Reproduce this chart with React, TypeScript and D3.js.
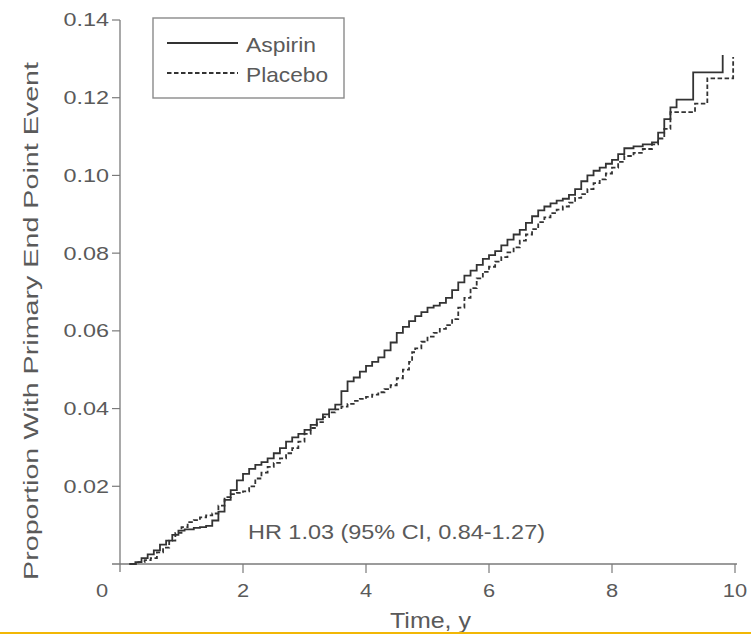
import React, { useEffect, useRef } from "react";
import * as d3 from "d3";

// cumulative incidence (time in years, proportion)
const aspirinTime = [
  0.15, 0.25, 0.35, 0.45, 0.55, 0.65, 0.75, 0.85, 0.95, 1.05, 1.2, 1.3, 1.4,
  1.5, 1.6, 1.7, 1.8, 1.9, 2.0, 2.1, 2.2, 2.3, 2.4, 2.5, 2.6, 2.7, 2.8, 2.9,
  3.0, 3.1, 3.2, 3.3, 3.4, 3.5, 3.6, 3.7, 3.8, 3.9, 4.0, 4.1, 4.2, 4.3, 4.4,
  4.5, 4.6, 4.7, 4.8, 4.9, 5.0, 5.1, 5.2, 5.3, 5.4, 5.5, 5.6, 5.7, 5.8, 5.9,
  6.0, 6.1, 6.2, 6.3, 6.4, 6.5, 6.6, 6.7, 6.8, 6.9, 7.0, 7.1, 7.2, 7.3, 7.4,
  7.5, 7.6, 7.7, 7.8, 7.9, 8.0, 8.1, 8.2, 8.35, 8.5, 8.65, 8.75, 8.85, 8.95,
  9.05, 9.32, 9.8,
];
const aspirinValue = [
  0, 0.0005, 0.0015, 0.0025, 0.0035, 0.005, 0.006, 0.0075, 0.0086, 0.0089,
  0.0093, 0.0095, 0.0098, 0.0112, 0.0135, 0.0165, 0.019, 0.0215, 0.0232,
  0.0245, 0.0255, 0.0262, 0.0272, 0.0285, 0.0298, 0.0315, 0.0326, 0.0335,
  0.0345, 0.0358, 0.0372, 0.0385, 0.0398, 0.041, 0.0445, 0.047, 0.048, 0.0495,
  0.051, 0.052, 0.0532, 0.055, 0.057, 0.0595, 0.061, 0.0625, 0.0638, 0.0648,
  0.066, 0.0665, 0.0672, 0.0685, 0.0705, 0.0725, 0.0742, 0.0755, 0.077,
  0.0785, 0.0795, 0.0805, 0.082, 0.0835, 0.0848, 0.086, 0.0878, 0.0895,
  0.091, 0.092, 0.0928, 0.0935, 0.094, 0.095, 0.0965, 0.0985, 0.1, 0.1012,
  0.102, 0.103, 0.104, 0.1055, 0.107, 0.1075, 0.108, 0.1085, 0.111, 0.1145,
  0.1175, 0.1195, 0.1265, 0.131,
];

const placeboTime = [
  0.2, 0.3, 0.4, 0.5, 0.6, 0.7, 0.8, 0.9, 1.0, 1.1, 1.2, 1.3, 1.4, 1.5, 1.6,
  1.7, 1.8, 1.9, 2.0, 2.1, 2.2, 2.3, 2.4, 2.5, 2.6, 2.7, 2.8, 2.9, 3.0, 3.1,
  3.2, 3.3, 3.4, 3.5, 3.6, 3.7, 3.8, 3.9, 4.0, 4.1, 4.2, 4.3, 4.4, 4.5, 4.6,
  4.7, 4.75, 4.8, 4.9, 5.0, 5.1, 5.2, 5.3, 5.4, 5.5, 5.6, 5.7, 5.8, 5.9, 6.0,
  6.1, 6.2, 6.3, 6.4, 6.5, 6.6, 6.7, 6.8, 6.9, 7.0, 7.1, 7.2, 7.3, 7.4, 7.5,
  7.6, 7.7, 7.8, 7.9, 8.0, 8.1, 8.2, 8.35, 8.5, 8.65, 8.75, 8.85, 8.95, 9.35,
  9.55, 9.97,
];
const placeboValue = [
  0, 0.0005, 0.001, 0.0015, 0.003, 0.0042, 0.006, 0.008, 0.0095, 0.0108,
  0.0113, 0.012, 0.0125, 0.013, 0.015, 0.0172, 0.018, 0.0183, 0.0187, 0.02,
  0.022, 0.0235, 0.025, 0.026, 0.0272, 0.0285, 0.0298, 0.0315, 0.0335, 0.035,
  0.0365, 0.0378, 0.039, 0.0398, 0.0405, 0.0412, 0.042, 0.0425, 0.043,
  0.0436, 0.0442, 0.045, 0.046, 0.0478, 0.05, 0.052, 0.0545, 0.0555, 0.0572,
  0.0585, 0.0595, 0.0605, 0.0615, 0.063, 0.066, 0.0685, 0.071, 0.0735,
  0.0752, 0.0765, 0.0778, 0.079, 0.0802, 0.0815, 0.0832, 0.0848, 0.0862,
  0.088, 0.0892, 0.0903, 0.0912, 0.092, 0.093, 0.0942, 0.0952, 0.0965, 0.098,
  0.099, 0.1005, 0.102, 0.1035, 0.105, 0.1058, 0.1068, 0.108, 0.1095, 0.112,
  0.1163, 0.1185, 0.125, 0.1305,
];

const xTicks = [0, 2, 4, 6, 8, 10];
const yTicks = [0.02, 0.04, 0.06, 0.08, 0.1, 0.12, 0.14];
const legendLabels = ["Aspirin", "Placebo"];

const App = () => {
  const ref = useRef<SVGSVGElement>(null);

  useEffect(() => {
    const width = 751;
    const height = 634;
    const margin = { top: 20, right: 16, bottom: 70, left: 120 };
    const font = "'Liberation Sans', Arial, sans-serif";
    const axisColor = "#7a7a7a";
    const textColor = "#5a5a5a";
    const lineColor = "#333";

    const svg = d3.select(ref.current);
    svg.selectAll("*").remove();

    const x = d3
      .scaleLinear()
      .domain([0, 10])
      .range([margin.left, width - margin.right]);
    const y = d3
      .scaleLinear()
      .domain([0, 0.14])
      .range([height - margin.bottom, margin.top]);

    // axes
    svg
      .append("line")
      .attr("x1", x(0))
      .attr("x2", x(0))
      .attr("y1", y(0.14))
      .attr("y2", y(0) + 8)
      .attr("stroke", axisColor)
      .attr("stroke-width", 1.3);
    svg
      .append("line")
      .attr("x1", x(0) - 8)
      .attr("x2", x(10) + 2)
      .attr("y1", y(0))
      .attr("y2", y(0))
      .attr("stroke", axisColor)
      .attr("stroke-width", 1.3);

    const yt = svg.append("g").selectAll("g").data(yTicks).join("g");
    yt.append("line")
      .attr("x1", x(0) - 8)
      .attr("x2", x(0))
      .attr("y1", d => y(d))
      .attr("y2", d => y(d))
      .attr("stroke", axisColor)
      .attr("stroke-width", 1.2);
    yt.append("text")
      .attr("transform", d => `translate(${x(0) - 11},${y(d)}) scale(1.3,1)`)
      .attr("dy", "0.36em")
      .attr("text-anchor", "end")
      .attr("font-family", font)
      .attr("font-size", 18)
      .attr("fill", textColor)
      .text(d => d.toFixed(2));

    const xt = svg.append("g").selectAll("g").data(xTicks).join("g");
    xt.filter(d => d > 0)
      .append("line")
      .attr("x1", d => x(d))
      .attr("x2", d => x(d))
      .attr("y1", y(0))
      .attr("y2", y(0) + 9)
      .attr("stroke", axisColor)
      .attr("stroke-width", 1.2);
    xt.append("text")
      .attr(
        "transform",
        d => `translate(${d === 0 ? x(d) - 18 : x(d)},${y(0) + 33}) scale(1.15,1)`
      )
      .attr("text-anchor", "middle")
      .attr("font-family", font)
      .attr("font-size", 19)
      .attr("fill", textColor)
      .text(d => d);

    svg
      .append("text")
      .attr("x", 390)
      .attr("y", 628)
      .attr("textLength", 81)
      .attr("lengthAdjust", "spacingAndGlyphs")
      .attr("font-family", font)
      .attr("font-size", 22)
      .attr("fill", textColor)
      .text("Time, y");

    svg
      .append("text")
      .attr("transform", `translate(38,${(62 + 580) / 2}) rotate(-90)`)
      .attr("x", -259)
      .attr("textLength", 518)
      .attr("lengthAdjust", "spacingAndGlyphs")
      .attr("font-family", font)
      .attr("font-size", 21)
      .attr("fill", textColor)
      .text("Proportion With Primary End Point Event");

    // curves
    const series = [
      { key: "Aspirin", pts: aspirinTime.map((t, i) => [t, aspirinValue[i]]) },
      { key: "Placebo", pts: placeboTime.map((t, i) => [t, placeboValue[i]]) },
    ];
    const line = d3
      .line<number[]>()
      .x(d => x(d[0]))
      .y(d => y(d[1]))
      .curve(d3.curveStepAfter);

    svg
      .append("g")
      .selectAll("path")
      .data(series)
      .join("path")
      .attr("fill", "none")
      .attr("stroke", lineColor)
      .attr("stroke-width", 1.8)
      .attr("stroke-dasharray", d => (d.key === "Placebo" ? "4.5,2.5" : null))
      .attr("d", d => line(d.pts));

    svg
      .append("text")
      .attr("x", 248)
      .attr("y", 539)
      .attr("textLength", 297)
      .attr("lengthAdjust", "spacingAndGlyphs")
      .attr("font-family", font)
      .attr("font-size", 21)
      .attr("fill", textColor)
      .text("HR 1.03 (95% CI, 0.84-1.27)");

    // legend
    const lg = svg.append("g");
    lg.append("rect")
      .attr("x", 153)
      .attr("y", 18)
      .attr("width", 191)
      .attr("height", 80)
      .attr("fill", "white")
      .attr("stroke", "#8a8a8a")
      .attr("stroke-width", 1.4);
    const li = lg
      .selectAll("g")
      .data(legendLabels)
      .join("g")
      .attr("transform", (d, i) => `translate(0,${43 + i * 30})`);
    li.append("line")
      .attr("x1", 167)
      .attr("x2", 238)
      .attr("stroke", lineColor)
      .attr("stroke-width", 1.8)
      .attr("stroke-dasharray", d => (d === "Placebo" ? "4.5,2.5" : null));
    li.append("text")
      .attr("x", 246)
      .attr("y", 9)
      .attr("textLength", d => (d === "Placebo" ? 82 : 70))
      .attr("lengthAdjust", "spacingAndGlyphs")
      .attr("font-family", font)
      .attr("font-size", 21)
      .attr("fill", textColor)
      .text(d => d);

    // orange rule along the bottom edge
    svg
      .append("rect")
      .attr("x", 0)
      .attr("y", 632)
      .attr("width", width)
      .attr("height", 2)
      .attr("fill", "#f2b705");
  }, []);

  return (
    <svg
      ref={ref}
      width={751}
      height={634}
      style={{ position: "absolute", left: 0, top: 0, background: "white" }}
    />
  );
};

export default App;
